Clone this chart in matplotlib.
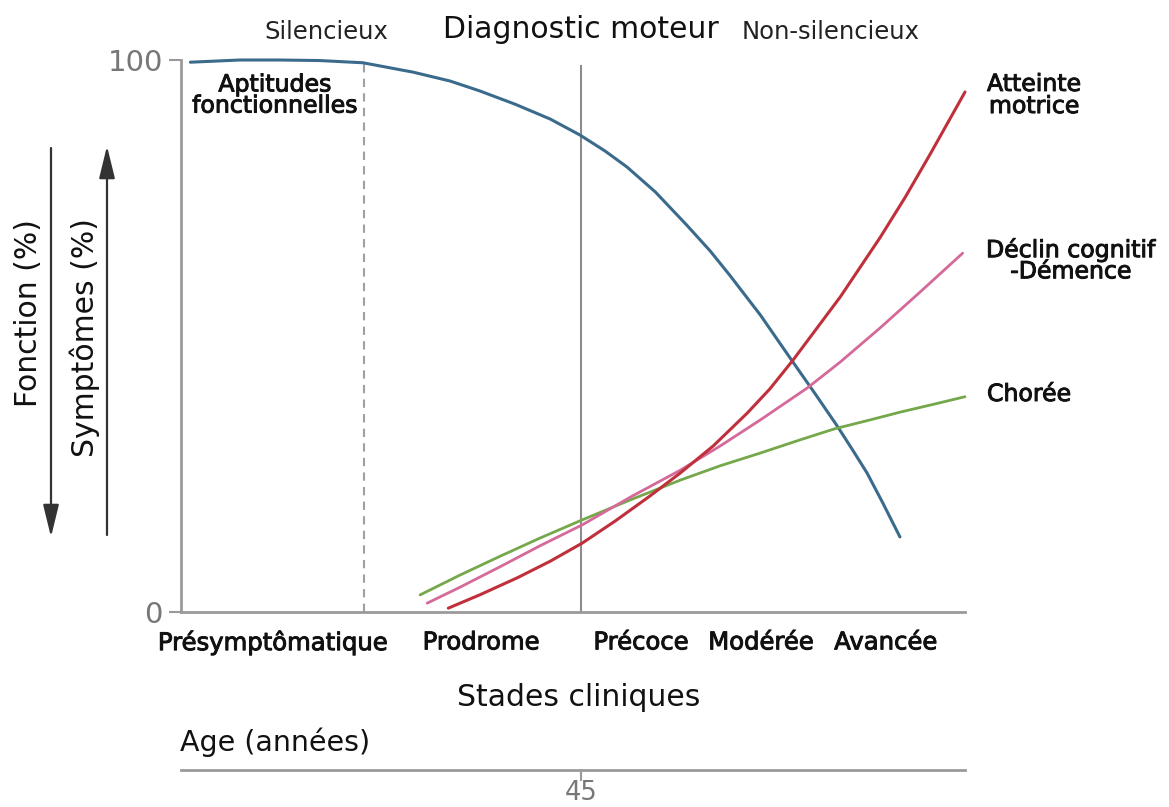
import matplotlib
matplotlib.use("Agg")
import matplotlib.pyplot as plt
import matplotlib.patheffects as pe
from matplotlib.patches import FancyArrowPatch
from matplotlib.transforms import blended_transform_factory

# courbes (x : 0-100 le long des stades, y : 0-100 %)
fonction_x = [1.2, 7.5, 12.6, 17.7, 23.2, 29.6, 34.3, 38.1, 42.6, 47.1, 50.9, 54.1,
              56.9, 60.5, 64.5, 67.5, 70.0, 73.9, 77.7, 80.9, 83.7, 85.6, 87.5, 89.5, 91.7]
fonction_y = [99.6, 100.0, 100.0, 99.9, 99.5, 97.8, 96.2, 94.4, 92.0, 89.3, 86.4, 83.5,
              80.6, 76.1, 70.1, 65.4, 61.0, 53.8, 46.0, 39.5, 33.7, 29.5, 25.2, 19.8, 13.6]

motrice_x = [34.1, 38.1, 42.9, 47.1, 51.2, 55.4, 59.8, 63.7, 67.9, 72.2, 75.1, 78.1,
             84.1, 89.2, 92.4, 95.5, 100]
motrice_y = [0.7, 3.1, 6.2, 9.2, 12.5, 16.5, 21.0, 25.2, 30.1, 36.0, 40.4, 45.7,
             57.1, 67.9, 75.2, 82.8, 94.2]

cognitif_x = [31.4, 35.6, 40.7, 45.8, 51.2, 57.3, 63.7, 68.8, 73.9, 79.9, 84.1, 89.2,
              94.3, 99.7]
cognitif_y = [1.6, 4.5, 8.2, 12.0, 15.8, 20.8, 25.7, 30.1, 34.8, 40.6, 45.3, 51.5,
              58.0, 65.0]

choree_x = [30.5, 35.6, 40.7, 45.8, 51.2, 57.3, 63.7, 68.8, 73.9, 79.0, 83.4, 87.9,
            91.7, 96.2, 100]
choree_y = [3.1, 6.7, 10.1, 13.4, 16.7, 20.3, 23.9, 26.5, 28.8, 31.2, 33.2, 34.8,
            36.2, 37.7, 39.0]

stades = ["Présymptômatique", "Prodrome", "Précoce", "Modérée", "Avancée"]
stades_x = [11.7, 38.3, 58.7, 74.0, 89.9]

diagnostic_x = 51.0
silencieux_x = 23.3
age_label = "45"

W, H = 1169, 807
fig = plt.figure(figsize=(W / 100, H / 100), dpi=100)
fig.patch.set_facecolor("white")


def px(x, y):
    return x / W, 1 - y / H


def ftext(x, y, s, **kw):
    kw.setdefault("ha", "center")
    kw.setdefault("va", "center")
    kw.setdefault("color", "#111111")
    fig.text(*px(x, y), s, **kw)


gris = "#9a9a9a"
ax = fig.add_axes([181 / W, 1 - 612 / H, (965 - 181) / W, (612 - 60) / H])
ax.set_xlim(0, 100)
ax.set_ylim(0, 100)
for s in ["top", "right"]:
    ax.spines[s].set_visible(False)
for s in ["left", "bottom"]:
    ax.spines[s].set_color(gris)
    ax.spines[s].set_linewidth(2)
ax.set_xticks([])
ax.set_yticks([0, 100])
ax.set_yticklabels(["0", "100"])
ax.tick_params(axis="y", length=9, width=1.5, color=gris, labelsize=21,
               labelcolor="#777777", pad=4)

ax.plot([diagnostic_x, diagnostic_x], [0, 99], color="#8c8c8c", lw=1.5)
ax.plot([silencieux_x, silencieux_x], [0, 99.2], color="#a0a0a0", lw=1.5,
        dashes=(4, 3))

courbes = [
    (fonction_x, fonction_y, "#3a6b8c", 2.2),
    (choree_x, choree_y, "#74a84a", 2.0),
    (cognitif_x, cognitif_y, "#d4699a", 2.0),
    (motrice_x, motrice_y, "#c0303c", 2.2),
]
for xs, ys, c, lw in courbes:
    ax.plot(xs, ys, color=c, lw=lw, solid_capstyle="round", solid_joinstyle="round",
            clip_on=False)

# axe des ages
ax2 = fig.add_axes([181 / W, 1 - 770 / H, (965 - 181) / W, 0.001])
ax2.set_xlim(0, 100)
for s in ["top", "right", "left"]:
    ax2.spines[s].set_visible(False)
ax2.spines["bottom"].set_color(gris)
ax2.spines["bottom"].set_linewidth(2)
ax2.set_yticks([])
ax2.set_xticks([diagnostic_x])
ax2.set_xticklabels([])
ax2.tick_params(axis="x", length=8, width=1.5, color=gris)
# étiquette posée contre le bas de la figure
fig.text(diagnostic_x, 1 / H, age_label,
         transform=blended_transform_factory(ax2.transData, fig.transFigure),
         ha="center", va="bottom", fontsize=18.5, color="#777777")

bold = [pe.withStroke(linewidth=0.7, foreground="#111111")]

ftext(326, 32, "Silencieux", fontsize=17.5, color="#222222")
ftext(581, 30, "Diagnostic moteur", fontsize=21.5)
ftext(831, 32, "Non-silencieux", fontsize=17.5, color="#222222")
ftext(275, 95, "Aptitudes\nfonctionnelles", fontsize=17, linespacing=0.85,
      path_effects=bold)

ftext(987, 95, "Atteinte\nmotrice", fontsize=17, ha="left", multialignment="center",
      linespacing=0.9, path_effects=bold)
ftext(986, 260, "Déclin cognitif\n-Démence", fontsize=17, ha="left",
      multialignment="center", linespacing=0.85, path_effects=bold)
ftext(987, 394, "Chorée", fontsize=17, ha="left", path_effects=bold)

for nom, x in zip(stades, stades_x):
    ax.text(x, -5.5, nom, ha="center", va="center", fontsize=17.5,
            color="#111111", path_effects=bold, clip_on=False)

ftext(579, 697, "Stades cliniques", fontsize=21.5)
ftext(180, 742, "Age (années)", fontsize=20.5, ha="left")

ftext(29, 313, "Fonction (%)", fontsize=21.5, rotation=90)
ftext(85, 338, "Symptômes (%)", fontsize=21.5, rotation=90)

for (x1, y1), (x2, y2) in [((51, 148), (51, 537)), ((107, 535), (107, 146))]:
    fig.add_artist(FancyArrowPatch(px(x1, y1), px(x2, y2), transform=fig.transFigure,
                                   arrowstyle="-|>,head_length=0.9,head_width=0.22",
                                   mutation_scale=22, lw=1.6,
                                   color="#333333", shrinkA=0, shrinkB=0))

fig.savefig("out.png", dpi=100)
